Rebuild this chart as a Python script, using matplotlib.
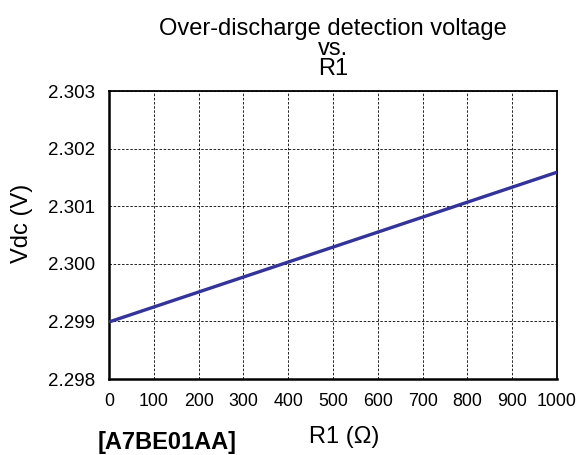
import matplotlib.pyplot as plt
import numpy as np

plt.rcParams['font.family'] = ['Liberation Sans', 'DejaVu Sans']

# Vdc vs R1 readings
r1_ohm = [0, 100, 200, 300, 400, 500, 600, 700, 800, 900, 1000]
vdc = [2.29899, 2.29925, 2.29951, 2.29977, 2.30003, 2.30029,
       2.30055, 2.30081, 2.30107, 2.30133, 2.30159]

x_ticks = np.arange(0, 1001, 100)
y_ticks = [2.298, 2.299, 2.300, 2.301, 2.302, 2.303]
title_lines = ['Over-discharge detection voltage', 'vs.', 'R1']

W, H = 582, 455
fig = plt.figure(figsize=(W / 100, H / 100), dpi=100)
ax = fig.add_axes([109 / W, 1 - 379 / H, 448 / W, 288 / H])

ax.plot(r1_ohm, vdc, '-', color='#333399', lw=2.4, solid_capstyle='butt', zorder=3)

ax.set_xlim(0, 1000)
ax.set_ylim(2.298, 2.303)
ax.set_xticks(x_ticks)
ax.set_yticks(y_ticks)
ax.set_yticklabels(['{:.3f}'.format(v) for v in y_ticks])
ax.tick_params(length=0)
ax.tick_params(axis='x', labelsize=12.8, pad=10)
ax.tick_params(axis='y', labelsize=13.5, pad=10)
ax.grid(True, linestyle=(0, (3, 2)), color='black', lw=0.6)

for side in ['left', 'bottom']:
    ax.spines[side].set_linewidth(1.8)
for side in ['top', 'right']:
    ax.spines[side].set_linewidth(1.3)

# title, one line at a time (tight spacing)
for i, line in enumerate(title_lines):
    fig.text(333 / W, 1 - (35 + 20 * i) / H, line, fontsize=17,
             ha='center', va='baseline')

fig.text(344 / W, 1 - 443 / H, 'R1 (Ω)', fontsize=17, ha='center', va='baseline')
fig.text(22 / W, 1 - 223 / H, 'Vdc (V)', fontsize=17, rotation=90,
         ha='center', va='center')
fig.text(98 / W, 1 - 449 / H, '[A7BE01AA]', fontsize=17, fontweight='bold',
         ha='left', va='baseline')

plt.savefig('out.png', dpi=100)
